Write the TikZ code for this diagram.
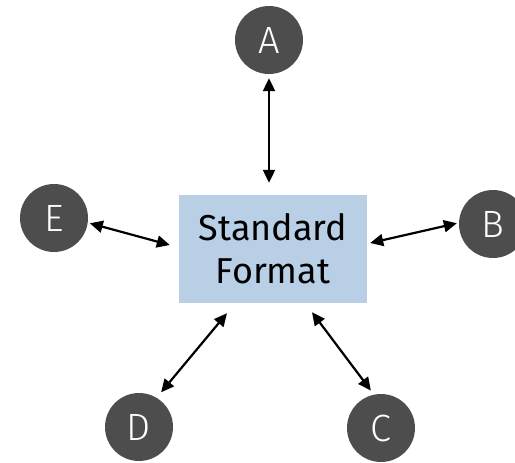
\documentclass[tikz,border=0pt]{standalone}
\usepackage{fontspec}
\setmainfont{Fira Sans}
\newfontfamily\lightfont{Fira Sans Light}
\usetikzlibrary{arrows.meta}
\definecolor{circfill}{HTML}{4D4D4D}
\definecolor{boxfill}{HTML}{B8CFE5}
\tikzset{
  circ/.style={circle, fill=circfill, draw=none, minimum size=68pt, inner sep=0pt, text=white, font=\lightfont\fontsize{38}{38}\selectfont},
  stdbox/.style={rectangle, fill=boxfill, draw=none, minimum width=188pt, minimum height=108pt, inner sep=0pt, align=center, font=\fontsize{36}{43}\selectfont, text=black},
  conn/.style={line width=2.2pt, {Triangle[length=13pt,width=12pt]}-{Triangle[length=13pt,width=12pt]}}
}
\begin{document}
\begin{tikzpicture}[x=1pt,y=-1pt]
\useasboundingbox (0,0) rectangle (515,463);
\node[stdbox] (box) at (273,249) {Standard\\Format};
\node[circ] (A) at (269,40) {\raisebox{-2pt}{A}};
\node[circ] (B) at (493,224) {\raisebox{-2pt}{B}};
\node[circ] (C) at (381,428) {\raisebox{-2pt}{C}};
\node[circ] (D) at (139,427) {\raisebox{-2pt}{D}};
\node[circ] (E) at (54,218) {\raisebox{-2pt}{E}};
\draw[conn, shorten <=4pt, shorten >=12pt] (A.south) -- (A.south |- box.north);
\draw[conn, shorten <=2pt] (B.178) -- ([xshift=3pt,yshift=6pt]box.east);
\draw[conn, shorten <=5pt] (C.102) -- ([xshift=39pt,yshift=-9pt]box.south);
\draw[conn, shorten <=7pt] (D.59) -- ([xshift=-46pt,yshift=-10pt]box.south);
\draw[conn, shorten <=2pt] (E.-8) -- ([xshift=-9pt,yshift=4pt]box.west);
\end{tikzpicture}
\end{document}
